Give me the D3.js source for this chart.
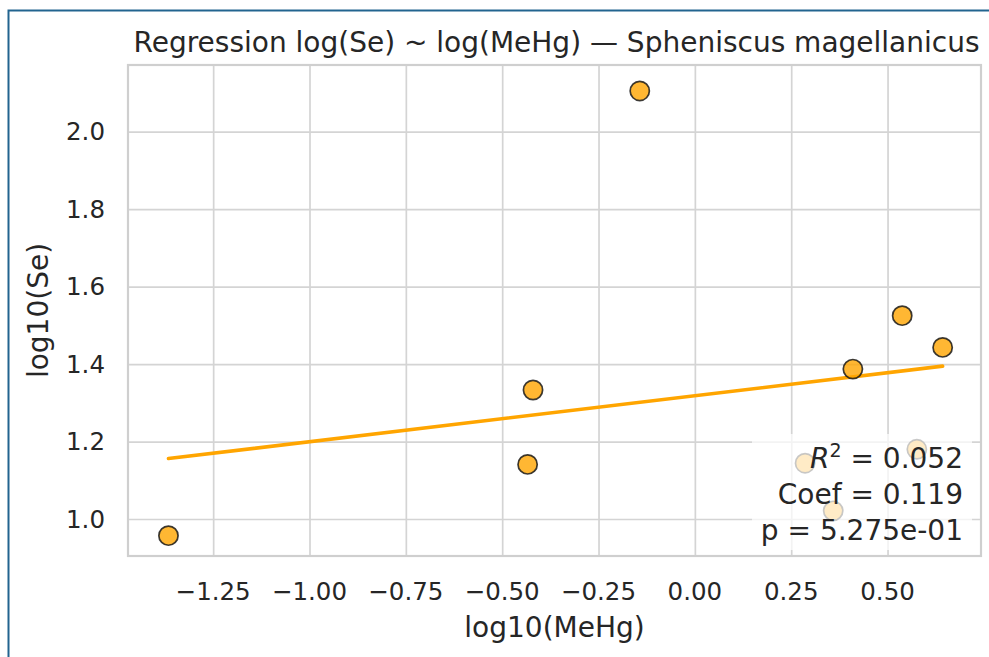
<!DOCTYPE html>
<html>
<head>
<meta charset="utf-8">
<script src="https://cdn.jsdelivr.net/npm/d3@7"></script>
<style>
  html, body { margin: 0; padding: 0; background: #fff; }
  svg { display: block; font-family: "DejaVu Sans", sans-serif; }
</style>
</head>
<body>
<svg id="chart" width="989" height="657"></svg>
<script>
// ---- data ----
const xValues = [-1.366, -0.434, -0.420, -0.143, 0.286, 0.359, 0.410, 0.538, 0.576, 0.643];
const yValues = [0.957, 1.141, 1.333, 2.105, 1.144, 1.021, 1.387, 1.525, 1.180, 1.443];
const xTicks = [-1.25, -1.00, -0.75, -0.50, -0.25, 0.00, 0.25, 0.50];
const yTicks = [1.0, 1.2, 1.4, 1.6, 1.8, 2.0];
const titleText = "Regression log(Se) ~ log(MeHg) \u2014 Spheniscus magellanicus";
const xLabel = "log10(MeHg)";
const yLabel = "log10(Se)";
const statValues = ["0.052", "0.119", "5.275e-01"];

// ---- layout ----
const W = 989, H = 657;
const plot = { left: 128, right: 981, top: 65, bottom: 556 };
const svg = d3.select("#chart");

// outer frame (blue border on top and left)
svg.append("path")
  .attr("d", `M8.5,${H} V10.5 H${W}`)
  .attr("fill", "none").attr("stroke", "#22648f").attr("stroke-width", 2);

const x = d3.scaleLinear().domain([-1.471, 0.7425]).range([plot.left, plot.right]);
const y = d3.scaleLinear().domain([0.9045, 2.172]).range([plot.bottom, plot.top]);

const textColor = "#262626";
const gridColor = "#d4d4d4";

// grid
const g = svg.append("g");
g.append("g").attr("transform", `translate(0,${plot.bottom})`)
  .call(d3.axisBottom(x).tickValues(xTicks).tickSize(-(plot.bottom - plot.top)).tickFormat(""))
  .call(s => s.select(".domain").remove())
  .call(s => s.selectAll("line").attr("stroke", gridColor).attr("stroke-width", 1.7));
g.append("g").attr("transform", `translate(${plot.left},0)`)
  .call(d3.axisLeft(y).tickValues(yTicks).tickSize(-(plot.right - plot.left)).tickFormat(""))
  .call(s => s.select(".domain").remove())
  .call(s => s.selectAll("line").attr("stroke", gridColor).attr("stroke-width", 1.7));

// plot frame
svg.append("rect")
  .attr("x", plot.left).attr("y", plot.top)
  .attr("width", plot.right - plot.left).attr("height", plot.bottom - plot.top)
  .attr("fill", "none").attr("stroke", "#cfcfcf").attr("stroke-width", 2.2);

// tick labels
const fmtX = d3.format(".2f"), fmtY = d3.format(".1f");
svg.append("g").selectAll("text").data(xTicks).join("text")
  .attr("x", d => x(d)).attr("y", 600)
  .attr("text-anchor", "middle").attr("font-size", 24.5).attr("fill", textColor)
  .text(d => fmtX(d));
svg.append("g").selectAll("text").data(yTicks).join("text")
  .attr("x", 105).attr("y", d => y(d)).attr("dy", "0.36em")
  .attr("text-anchor", "end").attr("font-size", 24.5).attr("fill", textColor)
  .text(d => fmtY(d));

// axis labels & title
svg.append("text").attr("x", (plot.left + plot.right) / 2).attr("y", 637)
  .attr("text-anchor", "middle").attr("font-size", 28).attr("fill", textColor).text(xLabel);
svg.append("text").attr("transform", `translate(48,${(plot.top + plot.bottom) / 2}) rotate(-90)`)
  .attr("text-anchor", "middle").attr("font-size", 28).attr("fill", textColor).text(yLabel);
svg.append("text").attr("x", (plot.left + plot.right) / 2 + 2).attr("y", 52)
  .attr("text-anchor", "middle").attr("font-size", 28).attr("fill", textColor).text(titleText);

// regression line (OLS from the data)
const n = xValues.length;
const mx = d3.mean(xValues), my = d3.mean(yValues);
let sxy = 0, sxx = 0;
for (let i = 0; i < n; i++) { sxy += (xValues[i] - mx) * (yValues[i] - my); sxx += (xValues[i] - mx) ** 2; }
const slope = sxy / sxx, intercept = my - slope * mx;
const [x0, x1] = d3.extent(xValues);
svg.append("line")
  .attr("x1", x(x0)).attr("y1", y(intercept + slope * x0))
  .attr("x2", x(x1)).attr("y2", y(intercept + slope * x1))
  .attr("stroke", "#FFA500").attr("stroke-width", 3.6).attr("stroke-linecap", "round");

// points
const pts = xValues.map((v, i) => ({ x: v, y: yValues[i] }));
svg.append("g").selectAll("circle").data(pts).join("circle")
  .attr("cx", d => x(d.x)).attr("cy", d => y(d.y)).attr("r", 9.6)
  .attr("fill", "#FFA500").attr("fill-opacity", 0.8)
  .attr("stroke", "#1a1a1a").attr("stroke-opacity", 0.85).attr("stroke-width", 1.7);

// stats box
svg.append("rect")
  .attr("x", 752).attr("y", 434).attr("width", 220).attr("height", 116).attr("rx", 6)
  .attr("fill", "#fff").attr("fill-opacity", 0.72);
const st = svg.append("g").attr("font-size", 28).attr("fill", textColor).attr("text-anchor", "end");
const t1 = st.append("text").attr("x", 963).attr("y", 468);
t1.append("tspan").attr("font-style", "italic").text("R");
t1.append("tspan").attr("font-size", 19).attr("dy", -11).text("2");
t1.append("tspan").attr("dy", 11).text(" = " + statValues[0]);
st.append("text").attr("x", 963).attr("y", 504).text("Coef = " + statValues[1]);
st.append("text").attr("x", 963).attr("y", 539.5).text("p = " + statValues[2]);
</script>
</body>
</html>
